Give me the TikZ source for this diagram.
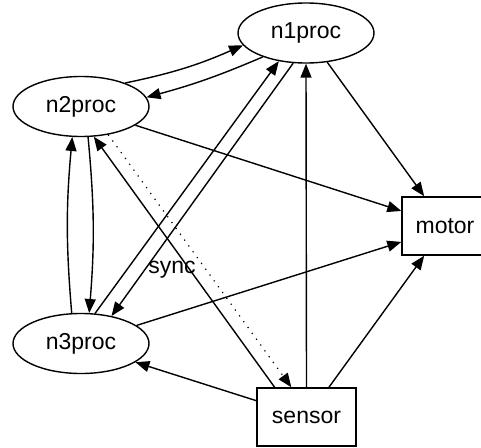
\documentclass[tikz,border=0pt]{standalone}
\usepackage{fontspec}
\setmainfont{Liberation Sans}
\usetikzlibrary{arrows.meta,shapes.geometric}
\begin{document}
\begin{tikzpicture}[x=1pt,y=-1pt,
  proc/.style={ellipse,draw,line width=1.4pt,minimum width=136pt,minimum height=60pt,inner sep=0pt,font=\fontsize{23}{27}\selectfont},
  boxnode/.style={rectangle,draw,line width=1.4pt,minimum height=58pt,inner sep=0pt,font=\fontsize{23}{27}\selectfont},
  conn/.style={line width=1.4pt,-{Triangle[length=14pt,width=11pt]}},
  syncline/.style={line width=1.2pt,dash pattern=on 1.2pt off 6pt,-{Triangle[length=14pt,width=11pt]}},
  lbl/.style={font=\fontsize{23}{27}\selectfont,inner sep=0pt}]
\useasboundingbox (0,0) rectangle (481,447);
\clip (0,0) rectangle (481,447);
\node[proc] (n1) at (306,33) {n1proc};
\node[proc] (n2) at (81,106.5) {n2proc};
\node[proc] (n3) at (81,343.5) {n3proc};
\node[boxnode,minimum width=86pt] (motor) at (445,226) {motor};
\node[boxnode,minimum width=99pt] (sensor) at (306.5,417) {sensor};

\draw[conn] (n2.28) to[bend right=6] (n1.191);
\draw[conn] (n1.209) to[bend left=4] (n2.8);
\draw[conn] (n3.107) to[bend left=5] (n2.254);
\draw[conn] (n2.283) to[bend left=5] (n3.75);
\draw[conn] (n3.65) -- (n1.226);
\draw[conn] (n1.247) -- (n3.42);
\draw[conn] (sensor.137) -- (n2.293);
\draw[syncline] (n2.314) -- node[pos=0.535,left=10pt,lbl] {sync} (sensor.117);
\draw[conn] (sensor.north) -- (n1.south);
\draw[conn] (n1.-54) -- (motor.125);
\draw[conn] (n2.-19) -- (motor.161);
\draw[conn] (n3.18) -- (motor.200);
\draw[conn] (sensor.53) -- (motor.235);
\draw[conn] (sensor.162) -- (n3.-19);
\end{tikzpicture}
\end{document}
